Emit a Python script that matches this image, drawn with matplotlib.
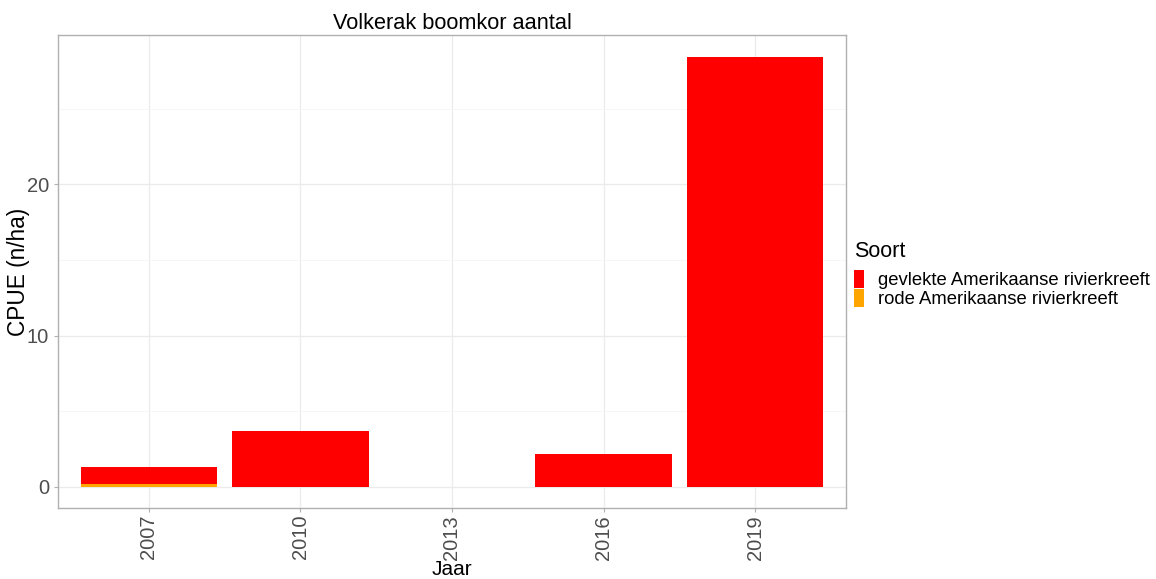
import numpy as np
import matplotlib
matplotlib.use("Agg")
import matplotlib.pyplot as plt
from matplotlib.patches import Patch

plt.rcParams['font.family'] = ['Liberation Sans', 'DejaVu Sans']

# data
jaren = [2007, 2010, 2013, 2016, 2019]
gevlekte = [1.1, 3.7, 0.0, 2.18, 28.45]
rode = [0.2, 0.0, 0.0, 0.0, 0.0]
soorten = ['gevlekte Amerikaanse rivierkreeft', 'rode Amerikaanse rivierkreeft']
kleuren = ['#FF0000', '#FFA500']

fig = plt.figure(figsize=(11.56, 5.79), dpi=100)
ax = fig.add_axes([0.0502, 0.1226, 0.6816, 0.817])

# stacked: rode at the bottom, gevlekte on top (ggplot order)
ax.bar(jaren, rode, width=2.7, color=kleuren[1], zorder=3)
ax.bar(jaren, gevlekte, width=2.7, bottom=rode, color=kleuren[0], zorder=3)

ax.set_xlim(2005.2, 2020.8)
ax.set_ylim(-1.42, 29.9)
ax.set_xticks(jaren)
ax.set_xticklabels([str(j) for j in jaren], rotation=90)
ax.set_yticks([0, 10, 20])
ax.set_yticks([5, 15, 25], minor=True)

ax.grid(True, which='major', color='#EBEBEB', linewidth=0.9, zorder=0)
ax.grid(True, which='minor', axis='y', color='#F5F5F5', linewidth=0.6, zorder=0)
ax.tick_params(which='major', colors='#B0B0B0', labelcolor='#4D4D4D',
               labelsize=14.5, length=3, width=0.8)
ax.tick_params(axis='x', which='major', pad=2)
ax.tick_params(which='minor', length=0)
for s in ax.spines.values():
    s.set_color('#B0B0B0')
    s.set_linewidth(1.0)

ax.set_title('Volkerak boomkor aantal', fontsize=15.7, pad=4)
ax.set_xlabel('Jaar', fontsize=15, labelpad=0)
ax.set_ylabel('CPUE (n/ha)', fontsize=16.3)
ax.yaxis.set_label_coords(-0.036, 0.5)

handles = [Patch(facecolor=c, edgecolor='none') for c in kleuren]
leg = fig.legend(handles, soorten, title='Soort', loc='upper left',
                 bbox_to_anchor=(0.739, 0.584), frameon=False, fontsize=13.3,
                 title_fontsize=15.5, handlelength=0.55, handleheight=1.1,
                 handletextpad=0.75, labelspacing=0.0, borderaxespad=0,
                 borderpad=0)
leg._legend_box.align = 'left'
leg._legend_box.sep = 6

fig.savefig('out.png', dpi=100)
